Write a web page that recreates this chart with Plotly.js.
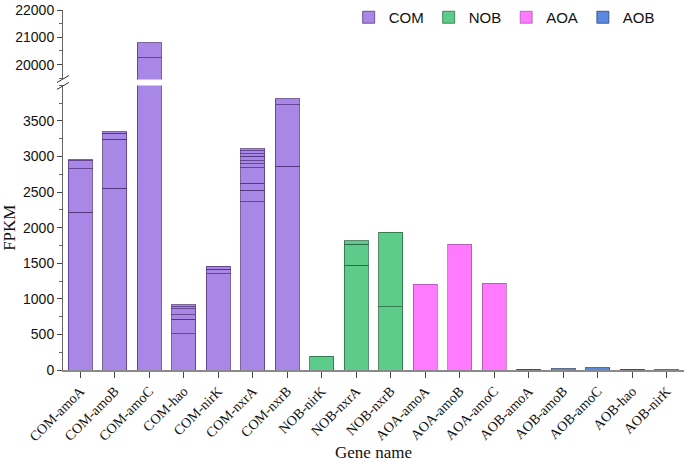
<!DOCTYPE html>
<html><head><meta charset="utf-8">
<script src="https://cdn.plot.ly/plotly-3.0.1.min.js"></script>
<style>html,body{margin:0;padding:0;background:#fff}#chart{width:685px;height:462px}</style>
</head><body><div id="chart"></div>
<script>
// Categories (x axis) by group
const comGenes = ["COM-amoA","COM-amoB","COM-amoC","COM-hao","COM-nirK","COM-nxrA","COM-nxrB"];
const nobGenes = ["NOB-nirK","NOB-nxrA","NOB-nxrB"];
const aoaGenes = ["AOA-amoA","AOA-amoB","AOA-amoC"];
const aobGenes = ["AOB-amoA","AOB-amoB","AOB-amoC","AOB-hao","AOB-nirK"];
const categories = comGenes.concat(nobGenes, aoaGenes, aobGenes);

// Stacked segment values (FPKM), bottom to top, one list per gene
const comSegments = [
  [2214, 613, 112, 16],
  [2553, 687, 90, 15],
  [20255, 545],
  [511, 199, 70, 79, 32, 28],
  [1355, 61, 42],
  [2363, 162, 98, 218, 60, 42, 61, 36, 38, 28],
  [2865, 863, 83]
];
const nobSegments = [[195], [1472, 297, 46], [887, 1049]];
const aoaSegments = [[1207], [1769], [1221]];
const aobSegments = [[10], [15], [30], [10], [3]];

// Tick values
const lowerTicks = [0, 500, 1000, 1500, 2000, 2500, 3000, 3500];
const upperTicks = [20000, 21000, 22000];

const groups = [
  {name: "COM", genes: comGenes, segs: comSegments, color: "#A987E6", line: "rgba(80,50,120,0.75)"},
  {name: "NOB", genes: nobGenes, segs: nobSegments, color: "#5DCC8B", line: "rgba(40,100,65,0.75)"},
  {name: "AOA", genes: aoaGenes, segs: aoaSegments, color: "#FF7AFF", line: "rgba(140,70,140,0.6)"},
  {name: "AOB", genes: aobGenes, segs: aobSegments, color: "#5A8AE0", line: "rgba(40,60,110,0.75)"}
];

const traces = [];
["y", "y2"].forEach(function(ax) {
  groups.forEach(function(g) {
    const maxLen = Math.max.apply(null, g.segs.map(s => s.length));
    for (let k = 0; k < maxLen; k++) {
      traces.push({
        type: "bar",
        name: g.name,
        legendgroup: g.name,
        showlegend: ax === "y" && k === 0,
        x: g.genes,
        y: g.segs.map(s => (k < s.length ? s[k] : null)),
        yaxis: ax,
        xaxis: "x",
        width: 0.7,
        marker: {color: g.color, line: {color: g.line, width: 1}},
        hoverinfo: "x+y"
      });
    }
  });
});

const lowerTop = 0.7906, upperBottom = 0.807;

const layout = {
  width: 685, height: 462,
  margin: {l: 63, r: 1, t: 7, b: 92},
  paper_bgcolor: "#fff", plot_bgcolor: "#fff",
  barmode: "stack",
  font: {family: "Liberation Sans, Arial, sans-serif", color: "#111", size: 14},
  showlegend: true,
  legend: {
    orientation: "h", x: 0.46, xanchor: "left", y: 1.025, yanchor: "top",
    font: {family: "Liberation Sans, Arial, sans-serif", size: 15, color: "#111"},
    traceorder: "normal", itemwidth: 30, bgcolor: "rgba(0,0,0,0)"
  },
  xaxis: {
    type: "category", categoryorder: "array", categoryarray: categories,
    range: [-0.5, 17.5],
    showline: true, linecolor: "#8a8a8a", linewidth: 1.5,
    ticks: "outside", ticklen: 6, tickcolor: "#444", tickwidth: 1,
    tickangle: -45,
    tickfont: {family: "Liberation Serif, Times New Roman, serif", size: 14, color: "#111"},
    showgrid: false, zeroline: false,
    title: {text: "Gene name", font: {family: "Liberation Serif, Times New Roman, serif", size: 17, color: "#111"}, standoff: 4}
  },
  yaxis: {
    domain: [0, lowerTop], range: [0, 4000],
    tickvals: lowerTicks, ticktext: lowerTicks.map(String),
    showline: true, linecolor: "#666", linewidth: 1,
    ticks: "outside", ticklen: 5, tickcolor: "#444",
    minor: {dtick: 250, tick0: 0, ticks: "outside", ticklen: 3, tickcolor: "#666"},
    showgrid: false, zeroline: false,
    tickfont: {size: 14},
    title: {text: "FPKM", font: {family: "Liberation Serif, Times New Roman, serif", size: 17, color: "#111"}, standoff: 6}
  },
  yaxis2: {
    domain: [upperBottom, 1], range: [19455, 22000], anchor: "x",
    tickvals: upperTicks, ticktext: upperTicks.map(String),
    showline: true, linecolor: "#666", linewidth: 1,
    ticks: "outside", ticklen: 5, tickcolor: "#444",
    minor: {dtick: 500, tick0: 0, ticks: "outside", ticklen: 3, tickcolor: "#666"},
    showgrid: false, zeroline: false,
    tickfont: {size: 14}
  },
  shapes: [
    {type: "line", xref: "paper", yref: "paper", xsizemode: "pixel", ysizemode: "pixel",
     xanchor: 0, yanchor: upperBottom, x0: -6, x1: 6, y0: -3, y1: 4,
     line: {color: "#333", width: 1}},
    {type: "line", xref: "paper", yref: "paper", xsizemode: "pixel", ysizemode: "pixel",
     xanchor: 0, yanchor: lowerTop, x0: -6, x1: 6, y0: -4, y1: 3,
     line: {color: "#333", width: 1}}
  ]
};

Plotly.newPlot("chart", traces, layout, {displayModeBar: false, staticPlot: true});
</script>
</body></html>
